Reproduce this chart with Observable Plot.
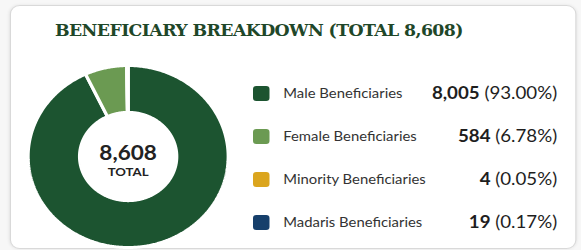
<!DOCTYPE html>
<html><head><meta charset="utf-8">
<script src="https://cdn.jsdelivr.net/npm/d3@7"></script>
<script src="https://cdn.jsdelivr.net/npm/@observablehq/plot@0.6"></script>
<style>
html,body{margin:0;padding:0}
body{width:581px;height:250px;overflow:hidden;background:#f7f7f7;position:relative;font-family:Lato,sans-serif}
#wrap{position:absolute;left:0;top:0;width:528px;height:250px;transform:scaleX(1.1);transform-origin:0 0}
#card{position:absolute;left:9px;top:5px;width:513px;height:242px;background:#fff;border:1px solid #d9d9d9;border-radius:9px;box-shadow:0 0 3px rgba(0,0,0,0.08)}
#title{position:absolute;left:50px;top:21px;font:bold 17.5px "DejaVu Serif Condensed","DejaVu Serif",serif;letter-spacing:-0.55px;line-height:19px;color:#1f4729;white-space:nowrap}
#donut{position:absolute;left:25px;top:65px}
#legend{position:absolute;left:228px;top:72px}
</style>
</head><body>
<div id="wrap">
  <div id="card"></div>
  <div id="title"></div>
  <div id="donut"></div>
  <div id="legend"></div>
</div>
<script>
const titleText = "BENEFICIARY BREAKDOWN (TOTAL 8,608)";
const totalValue = 8608;
const totalLabel = "TOTAL";
const categories = ["Male Beneficiaries", "Female Beneficiaries", "Minority Beneficiaries", "Madaris Beneficiaries"];
const counts = [8005, 584, 4, 19];
const percents = [93.00, 6.78, 0.05, 0.17];
const colors = ["#1c5430", "#6b9a52", "#dba51e", "#163f6b"];

document.getElementById("title").textContent = titleText;
const fmt = d3.format(",");

// donut slices from the percentages, clockwise from 12 o'clock
const inner = 0.485;
let cum = 0;
const slices = categories.map((c, i) => {
  const a0 = cum / 100 * 2 * Math.PI;
  cum += percents[i];
  const a1 = cum / 100 * 2 * Math.PI;
  const n = Math.max(2, Math.ceil((a1 - a0) / 0.01));
  const pts = [];
  for (let k = 0; k <= n; k++) { const a = a0 + (a1 - a0) * k / n; pts.push({x: Math.sin(a), y: Math.cos(a)}); }
  for (let k = n; k >= 0; k--) { const a = a0 + (a1 - a0) * k / n; pts.push({x: inner * Math.sin(a), y: inner * Math.cos(a)}); }
  return {category: c, color: colors[i], pts};
});

const donut = Plot.plot({
  width: 182, height: 182, margin: 0,
  x: {domain: [-1, 1], axis: null},
  y: {domain: [-1, 1], axis: null},
  style: {background: "transparent", overflow: "visible"},
  marks: [
    ...slices.map(s => Plot.line(s.pts, {x: "x", y: "y", curve: "linear-closed", fill: s.color, stroke: "white", strokeWidth: 3, strokeLinejoin: "miter"})),
    Plot.text([fmt(totalValue)], {x: 0, y: 0, text: d => d, dy: -3, fontSize: 20.5, fontWeight: "bold", fill: "#222", fontFamily: "Lato"}),
    Plot.text([totalLabel], {x: 0, y: 0, text: d => d, dy: 16, fontSize: 12, fontWeight: "bold", fill: "#222", fontFamily: "Lato"})
  ]
});
document.getElementById("donut").appendChild(donut);

const rows = categories.map((c, i) => ({category: c, count: counts[i], pct: percents[i], color: colors[i]}));
const legend = Plot.plot({
  width: 280, height: 172, margin: 0,
  x: {domain: [0, 280], range: [0, 280], axis: null},
  y: {type: "band", domain: categories, range: [0, 172], padding: 0, axis: null},
  color: {type: "identity"},
  style: {background: "transparent", overflow: "visible", fontFamily: "Lato"},
  marks: [
    Plot.barX(rows, {x1: 2, x2: 17, y: "category", fill: "color", insetTop: 14, insetBottom: 14, rx: 3}),
    Plot.text(rows, {x: 29, y: "category", text: "category", textAnchor: "start", fontSize: 13.5, fill: "#333"}),
    Plot.text(rows, {x: 278, y: "category", text: d => `${fmt(d.count)} (${d.pct.toFixed(2)}%)`, textAnchor: "end", fontSize: 17, fill: "#1e1e1e"})
  ]
});
d3.select(legend).selectAll("text").filter(function() { return /\(\d/.test(this.textContent); }).each(function() {
  const t = this.textContent; const k = t.indexOf(" ");
  const sel = d3.select(this); sel.text(null);
  sel.append("tspan").attr("font-weight", "bold").text(t.slice(0, k));
  sel.append("tspan").text(t.slice(k));
});
document.getElementById("legend").appendChild(legend);
</script>
</body></html>
